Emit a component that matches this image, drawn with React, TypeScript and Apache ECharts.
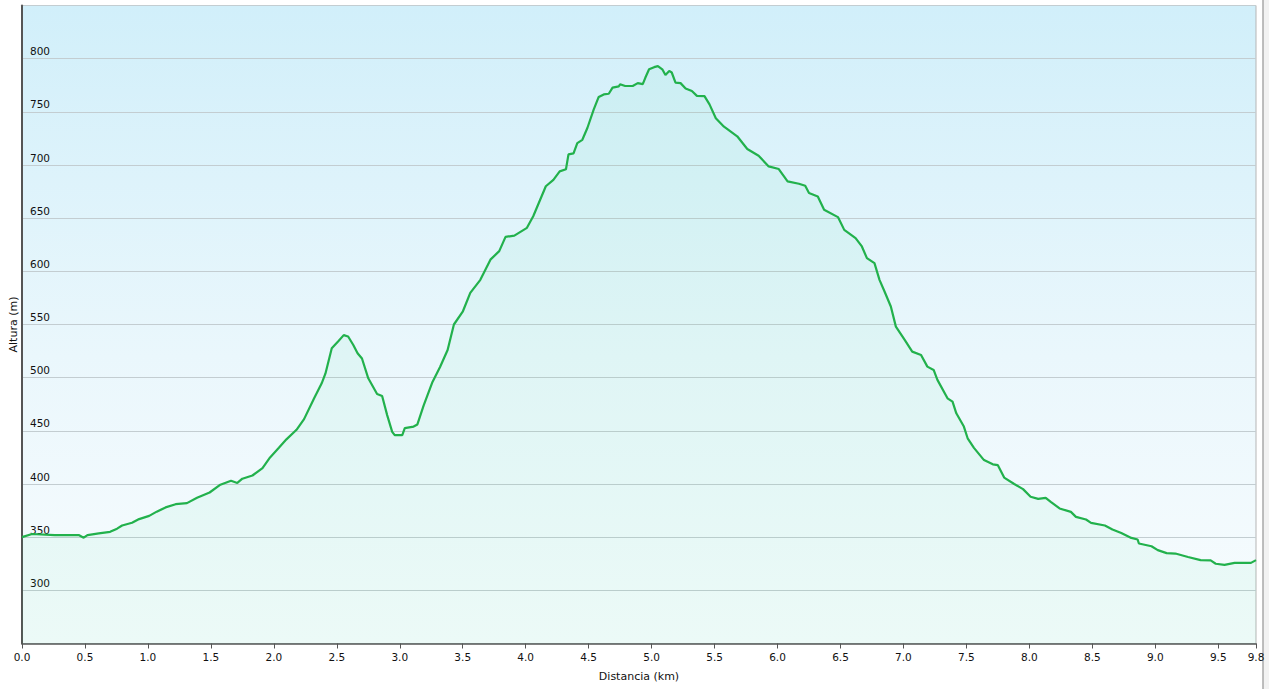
import React, { useEffect, useRef } from "react";
import * as echarts from "echarts";

// Distance along the route (km)
const distKm: number[] = [
  0, 0.08, 0.26, 0.45, 0.49, 0.52, 0.61, 0.70, 0.755, 0.795,
  0.874, 0.93, 1.01, 1.07, 1.14, 1.22, 1.31, 1.39, 1.49, 1.57,
  1.66, 1.71, 1.75, 1.83, 1.91, 1.97, 2.04, 2.10, 2.18, 2.24,
  2.32, 2.38, 2.41, 2.46, 2.51, 2.555, 2.59, 2.63, 2.665, 2.70,
  2.75, 2.82, 2.86, 2.90, 2.94, 2.96, 3.02, 3.04, 3.11, 3.14,
  3.19, 3.26, 3.32, 3.38, 3.43, 3.50, 3.56, 3.64, 3.72, 3.79,
  3.84, 3.91, 4.01, 4.06, 4.16, 4.22, 4.27, 4.32, 4.34, 4.38,
  4.41, 4.45, 4.49, 4.54, 4.58, 4.62, 4.66, 4.69, 4.74, 4.75,
  4.79, 4.85, 4.89, 4.93, 4.95, 4.98, 5.02, 5.05, 5.085, 5.11,
  5.14, 5.16, 5.19, 5.23, 5.27, 5.32, 5.36, 5.42, 5.46, 5.51,
  5.575, 5.68, 5.76, 5.85, 5.93, 6.01, 6.08, 6.17, 6.22, 6.25,
  6.32, 6.37, 6.48, 6.53, 6.62, 6.67, 6.71, 6.77, 6.81, 6.85,
  6.90, 6.94, 7.01, 7.07, 7.14, 7.19, 7.24, 7.27, 7.35, 7.39,
  7.42, 7.48, 7.51, 7.56, 7.64, 7.71, 7.75, 7.80, 7.88, 7.95,
  8.01, 8.07, 8.13, 8.17, 8.24, 8.33, 8.37, 8.45, 8.49, 8.60,
  8.66, 8.73, 8.81, 8.86, 8.87, 8.97, 9.02, 9.09, 9.16, 9.26,
  9.36, 9.44, 9.48, 9.55, 9.63, 9.76, 9.80,
];

// Altitude (m)
const altitudeM: number[] = [
  350, 353, 352, 352, 349.5, 352, 353.5, 355, 358, 361,
  363.5, 367, 370, 374, 378, 381, 382, 387, 392, 399,
  403, 401, 405, 408, 415, 425, 434, 442, 451, 461,
  480.6, 494.7, 504, 527.7, 534, 540, 538.7, 531, 523, 518,
  499.4, 484.6, 482.7, 464.8, 449, 446, 446, 452.5, 454, 456,
  474, 496, 510, 526, 550, 562, 579.7, 592, 611, 619,
  632.4, 633.6, 640.9, 651.8, 680, 686, 694, 696, 710, 711,
  720.6, 723.7, 734.8, 752, 764, 766.4, 767, 772.8, 774, 776,
  774.3, 774.3, 777, 776, 782, 790, 792, 793, 790, 784.7,
  788.5, 787, 777.5, 777, 772, 769.6, 765, 764.8, 757, 744,
  736, 727, 715, 708.7, 698.7, 696.2, 684.6, 682.4, 680.5, 673.6,
  670.4, 657.9, 651, 639, 631.3, 623.4, 612.4, 607.7, 592, 581,
  566.9, 548, 535.5, 524.5, 521.4, 510.4, 507.3, 497.9, 480.6, 477.4,
  466.5, 454, 443, 434, 422.5, 418.5, 417.7, 406, 400, 395.2,
  388, 386, 387, 383.2, 377, 373.8, 369.1, 366.6, 363.5, 361,
  357.3, 354, 349.3, 347.8, 344, 341.5, 337.8, 335, 334.6, 331.4,
  328.4, 328.1, 325, 323.9, 325.8, 325.8, 328.4,
];

const xAxisTitle = "Distancia (km)";
const yAxisTitle = "Altura (m)";
const xMin = 0;
const xMax = 9.8;
const xStep = 0.5;
const yMin = 250;
const yMax = 850;
const yStep = 50;

const FONT = "DejaVu Sans, Verdana, sans-serif";

export default function App() {
  const ref = useRef<HTMLDivElement>(null);

  useEffect(() => {
    if (!ref.current) return;
    const chart = echarts.init(ref.current, null, { renderer: "svg" });
    const data = distKm.map((d, i) => [d, altitudeM[i]]);
    chart.setOption({
      animation: false,
      backgroundColor: "#ffffff",
      textStyle: { fontFamily: FONT },
      grid: {
        left: 22,
        right: 13,
        top: 5.5,
        bottom: 45.5,
        containLabel: false,
        outerBoundsMode: "none",
        show: true,
        borderColor: "#b5b5b5",
        borderWidth: 1,
        backgroundColor: {
          type: "linear",
          x: 0,
          y: 0,
          x2: 0,
          y2: 1,
          colorStops: [
            { offset: 0, color: "#d1effa" },
            { offset: 0.55, color: "#eaf7fc" },
            { offset: 1, color: "#f8fcfe" },
          ],
        },
      },
      xAxis: {
        type: "value",
        min: xMin,
        max: xMax,
        interval: xStep,
        name: xAxisTitle,
        nameLocation: "middle",
        nameGap: 27,
        nameMoveOverlap: false,
        nameTextStyle: { color: "#111", fontSize: 11, fontFamily: FONT },
        axisLine: { show: true, lineStyle: { color: "#555", width: 1.5 } },
        axisTick: { show: true, length: 5, lineStyle: { color: "#555", width: 1 } },
        axisLabel: {
          color: "#111",
          fontSize: 10.5,
          fontFamily: FONT,
          margin: 8,
          formatter: (v: number) => v.toFixed(1),
        },
        splitLine: { show: false },
      },
      yAxis: {
        type: "value",
        min: yMin,
        max: yMax,
        interval: yStep,
        name: yAxisTitle,
        nameLocation: "middle",
        nameRotate: 90,
        nameGap: 3,
        nameMoveOverlap: false,
        nameTextStyle: { color: "#111", fontSize: 11, fontFamily: FONT },
        axisLine: { show: true, lineStyle: { color: "#555", width: 2 } },
        axisTick: { show: false },
        axisLabel: {
          inside: true,
          color: "#111",
          fontSize: 10.5,
          fontFamily: FONT,
          margin: 8,
          verticalAlign: "bottom",
          padding: [0, 0, 2, 0],
          showMinLabel: false,
          showMaxLabel: false,
        },
        splitLine: { show: true, lineStyle: { color: "#c3cdd1", width: 1.2 } },
      },
      series: [
        {
          type: "line",
          data,
          showSymbol: false,
          smooth: false,
          lineStyle: { color: "#22b14c", width: 2.2 },
          itemStyle: { color: "#22b14c" },
          areaStyle: { color: "rgba(40, 225, 120, 0.08)", origin: "start" },
        },
      ],
      graphic: [
        {
          type: "rect",
          shape: { x: 1263, y: 0, width: 6, height: 689 },
          style: { fill: "#f2f2f2" },
          silent: true,
        },
        {
          type: "line",
          shape: { x1: 1263, y1: 0, x2: 1263, y2: 689 },
          style: { stroke: "#a8a8a8", lineWidth: 1.5 },
          silent: true,
        },
      ],
    });
    return () => chart.dispose();
  }, []);

  return (
    <div
      ref={ref}
      style={{ position: "absolute", left: 0, top: 0, width: 1269, height: 689 }}
    />
  );
}
